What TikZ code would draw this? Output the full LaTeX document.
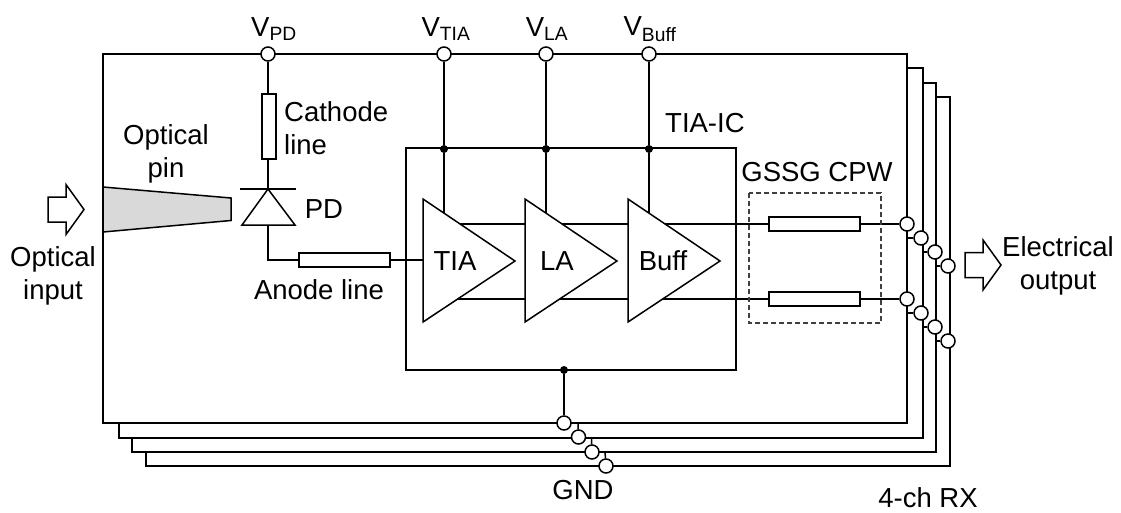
\documentclass[tikz,border=0pt]{standalone}
\usepackage{fontspec}
\setmainfont{Liberation Sans}
\usepackage{tikz}
\usetikzlibrary{
	calc,
	positioning
}
\definecolor{TaperGray}{RGB}{217,217,217}
\definecolor{DashGray}{RGB}{64,64,64}
\tikzset{
	wire/.style={line width=1.5pt, black},
	term/.style={circle, draw, line width=1.5pt, fill=white, inner sep=0pt, minimum size=14pt},
	dotnode/.style={circle, fill=black, inner sep=0pt, minimum size=8pt},
	lbl/.style={inner sep=0pt, align=center, font=\fontsize{27.5}{33}\selectfont},
	res/.style={draw, line width=1.5pt, fill=white, inner sep=0pt},
	hres/.style={res, minimum width=91pt, minimum height=14pt},
	fatarrow/.style={line width=1.5pt, fill=white}
}
\begin{document}
\begin{tikzpicture}[x=1pt, y=-1pt]
	\useasboundingbox (0,0) rectangle (1121,512);
	
	% channels behind
	\draw[wire, fill=white] (146,97) rectangle (950,466);
	\draw[wire, fill=white] (132,83) rectangle (936,452);
	\draw[wire, fill=white] (119,68) rectangle (923,438);
	\draw[wire, fill=white] (103,54) rectangle (907,423);
	
	% supply pins
	\node[term] (pd) at (268,54) {};
	\node[term] (tia) at (444,54) {};
	\node[term] (la) at (546,54) {};
	\node[term] (buff) at (649,54) {};
	\node[lbl] (vpd) at (274,29) {V\textsubscript{PD}};
	\node[lbl] (vtia) at (446,29) {V\textsubscript{TIA}};
	\node[lbl] (vla) at (547,29) {V\textsubscript{LA}};
	\node[lbl] (vbuff) at (650,29) {V\textsubscript{Buff}};
	
	% TIA-IC
	\draw[wire] (406,148) rectangle (736,370);
	\node[dotnode] (d1) at (444,149) {};
	\node[dotnode] (d2) at (546,149) {};
	\node[dotnode] (d3) at (649,149) {};
	\node[dotnode] (d4) at (564,370) {};
	\coordinate (t1) at (444,225);
	\coordinate (t2) at (546,225);
	\coordinate (t3) at (649,225);
	\draw[wire] (tia) -- (d1) -- (t1);
	\draw[wire] (la) -- (d2) -- (t2);
	\draw[wire] (buff) -- (d3) -- (t3);
	\node[lbl, anchor=west] (ic) at (665,123) {TIA-IC};
	
	% output pins
	\foreach \i/\x/\y in {0/907/0, 1/921/14, 2/935/28, 3/948/42} {
		\node[term] (u\i) at (\x,224+\y) {};
		\node[term] (v\i) at (\x,299+\y) {};
	}
	\foreach \i/\j/\x in {0/1/907, 1/2/923, 2/3/936} {
		\draw[wire] (\x,224+14+14*\i) -- (u\j);
		\draw[wire] (\x,299+14+14*\i) -- (v\j);
	}
	
	% signal lines
	\coordinate (s1) at (450,224);
	\coordinate (s2) at (450,299);
	\draw[wire] (s1) -- (u0);
	\draw[wire] (s2) -- (v0);
	
	% amplifiers
	\foreach \x/\n/\t/\d in {423/atia/TIA/32, 525/ala/LA/32, 628/abuff/Buff/35} {
		\draw[wire, fill=white, line join=miter] (\x,199) -- (\x,322) -- (\x+92,261) -- cycle;
		\node[lbl] (\n) at (\x+\d,261) {\t};
	}
	
	% CPW
	\draw[line width=1.3pt, DashGray, dash pattern=on 5pt off 3pt] (749,193) rectangle (881,323);
	\node[hres] (r1) at (814.5,224) {};
	\node[hres] (r2) at (814.5,299) {};
	\node[lbl] (cpw) at (817,172) {GSSG CPW};
	
	% photodiode
	\node[res, minimum width=14pt, minimum height=65pt] (cath) at (269,126.5) {};
	\coordinate (kk) at (268,189);
	\coordinate (aa) at (268,225);
	\draw[wire] (pd) -- (268,94);
	\draw[wire] (268,159) -- (kk);
	\draw[wire] (240,189) -- (296,189);
	\draw[wire, fill=white, line join=miter] (kk) -- (242,225) -- (295,225) -- cycle;
	\node[hres] (anode) at (344.5,260) {};
	\draw[wire] (aa) |- (anode);
	\draw[wire] (anode) -- (423,260);
	\node[lbl, anchor=west, align=left] (cl) at (284,128.5) {Cathode\\line};
	\node[lbl] (plbl) at (324,209) {PD};
	\node[lbl] (al) at (319,290) {Anode line};
	
	% taper
	\draw[wire, fill=TaperGray, line join=miter] (103,187) -- (231,198) -- (231,220.5) -- (103,232) -- cycle;
	\node[lbl] (pin) at (166,154) {Optical\\pin};
	
	% arrows
	\foreach \x/\y in {48/209.5, 965/265} {
		\draw[fatarrow] (\x,\y-12.5) -- (\x+18,\y-12.5) -- (\x+18,\y-25) -- (\x+36,\y) -- (\x+18,\y+25) -- (\x+18,\y+12.5) -- (\x,\y+12.5) -- cycle;
	}
	\node[lbl] (oin) at (53,275.5) {Optical\\input};
	\node[lbl] (eout) at (1058,266) {Electrical\\output};
	
	% ground
	\node[term] (g0) at (564,423) {};
	\node[term] (g1) at (578.5,437) {};
	\node[term] (g2) at (592,452) {};
	\node[term] (g3) at (606,466) {};
	\draw[wire] (d4) -- (g0);
	\draw[wire] (578,423) -- (g1);
	\draw[wire] (591.5,438) -- (g2);
	\draw[wire] (605,452) -- (g3);
	\node[lbl] (gnd) at (583,490.5) {GND};
	\node[lbl] (rx) at (928,497.5) {4-ch RX};
\end{tikzpicture}
\end{document}
